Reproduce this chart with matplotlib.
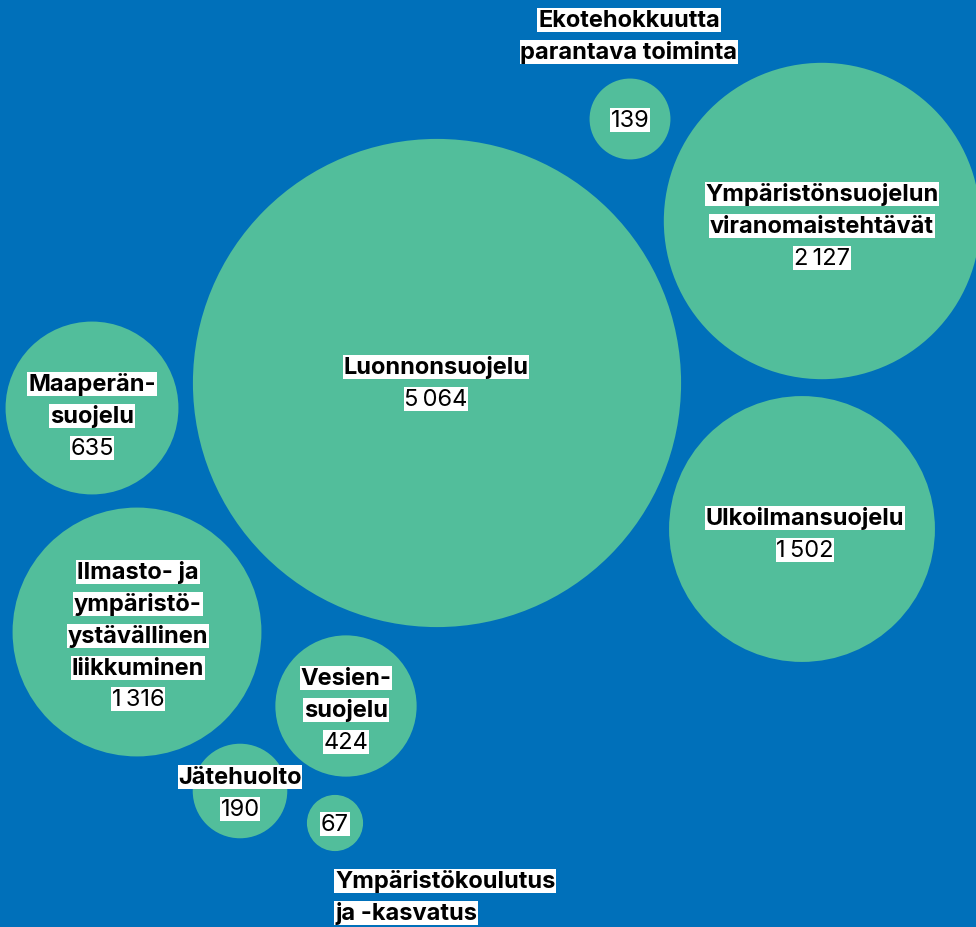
import numpy as np
import matplotlib.pyplot as plt
from matplotlib.patches import Circle

plt.rcParams['font.family'] = ['Inter', 'DejaVu Sans']

# data
names = ["Luonnonsuojelu",
         "Ympäristönsuojelun\nviranomaistehtävät",
         "Ulkoilmansuojelu",
         "Ilmasto- ja\nympäristö-\nystävällinen\nliikkuminen",
         "Maaperän-\nsuojelu",
         "Vesien-\nsuojelu",
         "Jätehuolto",
         "Ekotehokkuutta\nparantava toiminta",
         "Ympäristökoulutus\nja -kasvatus"]
values = [5064, 2127, 1502, 1316, 635, 424, 190, 139, 67]

# layout (pixel coords, y down)
cx = [437, 822, 802, 137, 92, 346, 240, 630, 335]
cy = [384, 222, 530, 633, 409, 707, 792, 120, 824]
name_x = [436, 822, 805, 138, 92, 346, 240, 629, 335]
name_y = [368, 195, 519, 573, 385, 679, 778, 21, 882]
name_ha = ["center"] * 8 + ["left"]
val_xy = [(436, 400), (822, 259), (805, 551), (138, 700), (92, 449),
          (346, 743), (240, 810), (630, 121), (335, 825)]

W, H = 976, 928
BG = "#0070BA"
GREEN = "#52BE9B"
LINE = 32
FS = 17

fig = plt.figure(figsize=(W / 100, H / 100), dpi=100, facecolor=BG)
ax = fig.add_axes([0, 0, 1, 1])
ax.set_facecolor(BG)
ax.set_xlim(0, W)
ax.set_ylim(H, 0)
ax.set_aspect("equal")
ax.axis("off")

k = 3.43
for x, y, v in zip(cx, cy, values):
    ax.add_patch(Circle((x, y), k * np.sqrt(v), facecolor=GREEN, edgecolor="none"))

box = dict(facecolor="white", edgecolor="none", pad=0.5)
for i, name in enumerate(names):
    for j, line in enumerate(name.split("\n")):
        ax.text(name_x[i], name_y[i] + j * LINE, line, ha=name_ha[i], va="center",
                fontsize=FS, fontweight="bold", color="black", bbox=box)
    label = f"{values[i]:,}".replace(",", "\u2009")
    ax.text(val_xy[i][0], val_xy[i][1], label, ha="center", va="center",
            fontsize=FS, color="black", bbox=box)

fig.savefig("out.png", dpi=100, facecolor=BG)
